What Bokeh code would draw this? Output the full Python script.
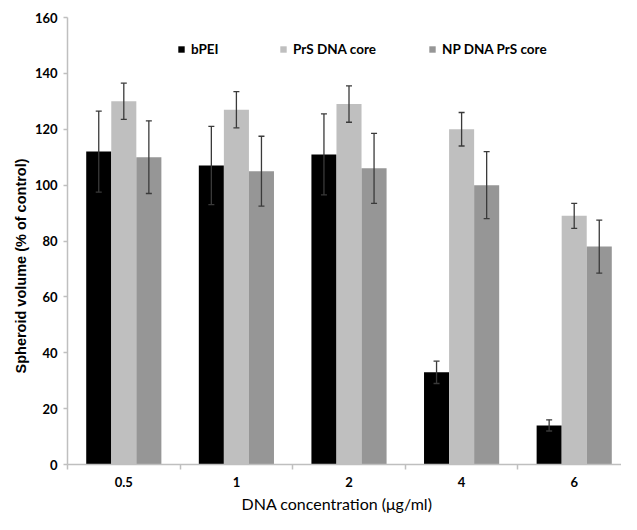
from bokeh.plotting import figure
from bokeh.models import (ColumnDataSource, Whisker, TeeHead, FixedTicker, Range1d,
                          Legend, LegendItem, Title)
from bokeh.embed import file_html
from bokeh.resources import INLINE

# ---- data ----
categories = ["0.5", "1", "2", "4", "6"]
series_names = ["bPEI", "PrS DNA core", "NP DNA PrS core"]
bpei = [112, 107, 111, 33, 14]
bpei_err = [14.5, 14, 14.5, 4, 2]
prs_core = [130, 127, 129, 120, 89]
prs_err = [6.5, 6.5, 6.5, 6, 4.5]
np_core = [110, 105, 106, 100, 78]
np_err = [13, 12.5, 12.5, 12, 9.5]
y_ticks = [0, 20, 40, 60, 80, 100, 120, 140, 160]
x_title = "DNA concentration (μg/ml)"
y_title = "Spheroid volume (% of control)"

series_vals = [bpei, prs_core, np_core]
series_errs = [bpei_err, prs_err, np_err]
colors = ["#000000", "#BFBFBF", "#969696"]
offsets = [-0.2225, 0.0, 0.2225]
bar_w = 0.2225
legend_x = [110, 212, 361]

FONT = "Lato"
AXIS_GRAY = "#BFBFBF"
ERR = "#3a3a3a"

p = figure(width=621, height=514, output_backend="svg", toolbar_location=None,
           x_range=Range1d(-0.5, 4.42), y_range=Range1d(0, 160),
           min_border_left=67, min_border_top=17, min_border_right=0,
           min_border_bottom=49)
p.outline_line_color = None
p.xgrid.visible = False
p.ygrid.visible = False

renderers = []
for name, vals, errs, col, off in zip(series_names, series_vals, series_errs, colors, offsets):
    xs = [i + off for i in range(len(categories))]
    src = ColumnDataSource(dict(x=xs, top=vals,
                                upper=[v + e for v, e in zip(vals, errs)],
                                lower=[v - e for v, e in zip(vals, errs)]))
    r = p.vbar(x="x", top="top", width=bar_w, bottom=0, source=src,
               fill_color=col, line_color=None)
    renderers.append(r)
    w = Whisker(source=src, base="x", upper="upper", lower="lower",
                line_color=ERR, line_width=1.3,
                upper_head=TeeHead(size=6, line_color=ERR, line_width=1.3),
                lower_head=TeeHead(size=6, line_color=ERR, line_width=1.3))
    w.level = "overlay"
    p.add_layout(w)

# x axis
xa = p.xaxis[0]
xa.ticker = FixedTicker(ticks=list(range(len(categories))),
                        minor_ticks=[i - 0.5 for i in range(len(categories) + 1)])
xa.major_label_overrides = {i: c for i, c in enumerate(categories)}
xa.major_tick_out = 0
xa.major_tick_in = 0
xa.minor_tick_out = 5
xa.minor_tick_in = 0
xa.minor_tick_line_color = AXIS_GRAY
xa.minor_tick_line_width = 1.5
xa.axis_line_color = AXIS_GRAY
xa.axis_line_width = 1.5
xa.major_label_text_font = FONT
xa.major_label_text_font_style = "bold"
xa.major_label_text_font_size = "13px"
xa.major_label_text_color = "#000000"
xa.major_label_standoff = 7

# y axis
ya = p.yaxis[0]
ya.ticker = FixedTicker(ticks=y_ticks)
ya.major_tick_out = 4
ya.major_tick_in = 0
ya.minor_tick_out = 0
ya.minor_tick_in = 0
ya.major_tick_line_color = AXIS_GRAY
ya.major_tick_line_width = 1.5
ya.axis_line_color = AXIS_GRAY
ya.axis_line_width = 1.5
ya.major_label_text_font = FONT
ya.major_label_text_font_style = "bold"
ya.major_label_text_font_size = "13px"
ya.major_label_text_color = "#000000"
ya.major_label_standoff = 6

# axis titles as side titles, offset from the frame's start edge
p.add_layout(Title(text=x_title, align="left", offset=174, standoff=4,
                   text_font=FONT, text_font_size="16px", text_font_style="normal",
                   text_color="#000000"), "below")
p.add_layout(Title(text=y_title, align="left", offset=91, standoff=6,
                   text_font="Liberation Sans", text_font_size="14.5px",
                   text_font_style="bold", text_color="#000000"), "left")

for name, r, lx in zip(series_names, renderers, legend_x):
    lg = Legend(items=[LegendItem(label=name, renderers=[r])], location=(lx, 407),
                glyph_width=8, glyph_height=8, label_standoff=6,
                padding=0, margin=0, border_line_color=None, background_fill_alpha=0,
                label_text_font=FONT, label_text_font_style="bold",
                label_text_font_size="13.5px", label_text_color="#000000")
    p.add_layout(lg)

open("out.html", "w").write(file_html(p, INLINE))
